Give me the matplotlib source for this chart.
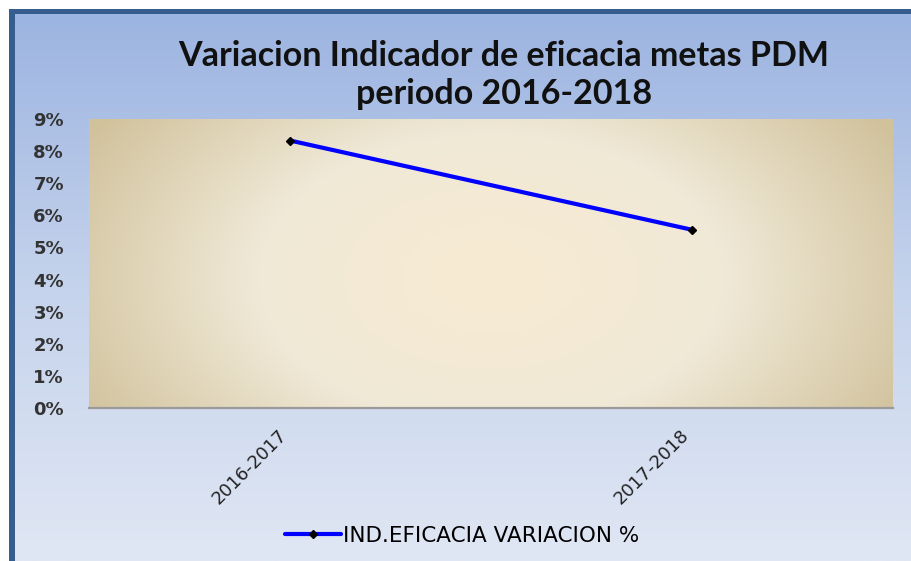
import matplotlib
matplotlib.use("Agg")
import matplotlib.pyplot as plt
import numpy as np
from matplotlib.colors import LinearSegmentedColormap
from matplotlib.patches import Rectangle
from matplotlib.ticker import FuncFormatter

periods = ["2016-2017", "2017-2018"]
variacion = [8.33, 5.55]  # percent
series_name = "IND.EFICACIA VARIACION %"
title = "Variacion Indicador de eficacia metas PDM\nperiodo 2016-2018"

W, H = 911, 561
fig = plt.figure(figsize=(W / 100, H / 100), dpi=100)
fig.patch.set_facecolor("white")

# chart frame: dark border + vertical blue gradient
bg = fig.add_axes([0, 0, 1, 1], zorder=0)
bg.add_patch(Rectangle((9, 9), W, H, color="#365d8d", lw=0, zorder=1))
grad = np.linspace(0, 1, 256)[:, None]
blue_cmap = LinearSegmentedColormap.from_list("bl", ["#9cb4e1", "#c5d3ec", "#e0e7f4"])
bg.imshow(grad, cmap=blue_cmap, aspect="auto", extent=[15, W, H, 14],
          interpolation="bilinear", zorder=2)
bg.set_xlim(0, W)
bg.set_ylim(H, 0)
bg.axis("off")

# plot area
ax = fig.add_axes([89 / W, 1 - 408 / H, 804 / W, 289 / H], zorder=1)
yy, xx = np.mgrid[0:1:200j, 0:1:400j]
r = np.sqrt(((xx - 0.5) / 0.58) ** 2 + ((yy - 0.45) / 1.0) ** 2)
r = np.clip(r, 0, 1)
tan_cmap = LinearSegmentedColormap.from_list("tan", ["#f8ebd2", "#f0e9d7", "#d1c29c"])
ax.imshow(r, cmap=tan_cmap, aspect="auto", extent=[-0.5, 1.5, 0, 9],
          origin="lower", interpolation="bilinear", zorder=0)

x = np.arange(len(periods))
ax.plot(x, variacion, color="#0000ff", lw=3, marker="D", ms=4,
        mfc="black", mec="black", label=series_name, zorder=3,
        solid_capstyle="round")

ax.set_xlim(-0.5, 1.5)
ax.set_ylim(0, 9)
ax.set_yticks(range(0, 10))
ax.yaxis.set_major_formatter(FuncFormatter(lambda v, p: f"{int(v)}%"))
ax.set_xticks(x, labels=[""] * len(periods))
# category labels, rotated like Excel's
for xi, lab in zip(x, periods):
    ax.annotate(lab, xy=(xi, 0), xycoords=("data", "axes fraction"),
                xytext=(-8.6, -13), textcoords="offset points",
                rotation=45, ha="right", va="top", rotation_mode="anchor",
                fontsize=13, color="#222222", annotation_clip=False)
for lab in ax.get_yticklabels():
    lab.set_fontweight("bold")
    lab.set_fontsize(13)
    lab.set_color("#333333")
ax.tick_params(axis="both", length=0)
ax.tick_params(axis="y", pad=18)
for s in ["top", "right", "left"]:
    ax.spines[s].set_visible(False)
ax.spines["bottom"].set_color("#9a9a9a")
ax.spines["bottom"].set_linewidth(1.6)

fig.text(504 / W, 1 - 75 / H, title, ha="center", va="center",
         fontsize=24.5, fontweight="bold", family="Lato", color="#111111",
         linespacing=1.25)

fig.legend(loc="center", bbox_to_anchor=(462 / W, 1 - 536 / H), frameon=False,
           fontsize=15.5, handlelength=2.6, handletextpad=0.1)

fig.savefig("out.png", dpi=100)
